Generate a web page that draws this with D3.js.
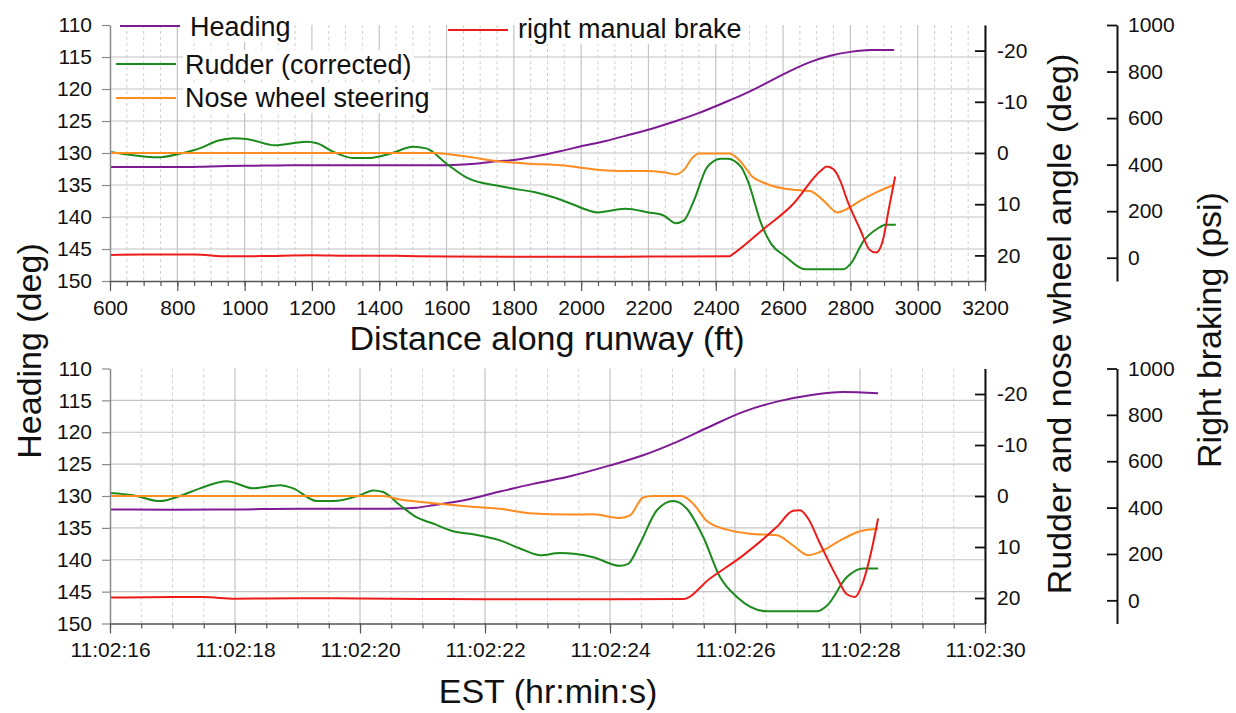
<!DOCTYPE html>
<html><head><meta charset="utf-8">
<script src="https://cdn.jsdelivr.net/npm/d3@7"></script>
<style>
body{margin:0;background:#fff;}
svg{display:block;font-family:"Liberation Sans",Arial,Helvetica,sans-serif;}
</style></head><body>
<svg id="c" width="1236" height="713"></svg>
<script>
// ---------- DATA: top panel (distance along runway, ft) ----------
const topHeadingX = [600,700,800,900,1000,1100,1200,1300,1400,1500,1600,1650,1700,1750,1800,1860,1940,2000,2070,2140,2210,2280,2345,2440,2500,2560,2620,2680,2740,2800,2860,2930];
const topHeadingY = [132.2,132.2,132.2,132.1,132.0,131.95,131.9,131.9,131.9,131.9,131.9,131.8,131.6,131.3,131.1,130.6,129.7,128.95,128.15,127.2,126.2,125.05,123.85,121.8,120.4,118.8,117.2,115.8,114.8,114.2,113.9,113.9];

const topRudderX = [600,670,740,810,870,920,967,1010,1090,1185,1215,1265,1325,1365,1435,1500,1540,1600,1660,1760,1820,1860,1920,1970,2050,2130,2200,2245,2280,2305,2335,2375,2415,2435,2475,2495,2535,2565,2605,2665,2780,2800,2840,2880,2905,2935];
const topRudderY = [-0.2,0.45,0.85,0.1,-1.0,-2.4,-2.9,-2.7,-1.5,-2.2,-1.9,-0.2,1.0,1.0,0.1,-1.2,-0.9,2.1,4.8,6.5,7.2,7.6,8.7,9.9,11.6,10.9,11.6,12.2,13.7,13.2,9.3,2.7,1.1,1.1,2.7,5.4,13.8,17.8,20.1,22.7,22.7,21.7,17.1,14.8,14.0,14.0];

const topNoseX = [600,1000,1400,1560,1650,1750,1850,1940,2040,2140,2200,2250,2280,2305,2330,2350,2440,2470,2510,2550,2630,2680,2720,2762,2781,2830,2880,2930];
const topNoseY = [0,0,0,0,0.6,1.6,2.1,2.4,3.2,3.5,3.5,3.8,4.2,3.3,1.0,0.1,0.1,1.4,4.7,6.0,7.2,7.4,9.3,11.6,11.2,9.3,7.6,6.2];

const topBrakeX = [600,700,850,950,1050,1200,1300,1450,1600,1800,2000,2200,2440,2455,2535,2630,2712,2730,2750,2770,2791,2831,2856,2876,2896,2915,2933];
const topBrakeY = [12,14,14,6,7,11,9,8,5,4,4,5,6,20,115,231,374,392,380,330,245,115,36,22,72,216,349];

// ---------- DATA: bottom panel (seconds after 11:02:00 EST) ----------
const botHeadingX = [16,17,18,19,20,20.5,20.9,21.17,21.7,22.24,22.77,23.36,24.0,24.53,25.07,25.6,26.13,26.67,27.2,27.73,28.29];
const botHeadingY = [132.1,132.15,132.1,132.0,132.0,132.0,131.85,131.45,130.6,129.3,128.1,126.9,125.2,123.6,121.5,119.1,116.8,115.2,114.2,113.7,113.9];

const botRudderX = [16.0,16.37,16.8,17.12,17.44,17.87,18.29,18.72,18.93,19.31,19.57,20.0,20.21,20.37,20.64,20.91,21.17,21.49,21.81,22.24,22.56,22.88,23.2,23.73,24.16,24.29,24.48,24.75,25.01,25.23,25.49,25.76,26.03,26.51,27.31,27.47,27.79,28.05,28.29];
const botRudderY = [-0.6,-0.15,1.0,0.0,-1.5,-2.9,-1.5,-2.1,-1.5,1.0,1.0,-0.15,-1.1,-0.8,1.8,4.2,5.4,6.9,7.5,8.7,10.3,11.6,11.2,12.0,13.7,13.3,9.3,2.8,1.0,2.5,8.0,15.9,19.8,22.6,22.6,21.5,15.9,14.2,14.2];

const botNoseX = [16,18,20,20.37,20.64,21.17,21.7,22.24,22.77,23.36,23.73,24.16,24.32,24.53,24.69,25.15,25.33,25.55,25.87,26.24,26.67,26.93,27.17,27.31,27.73,28.0,28.29];
const botNoseY = [0,0,0,0,0.7,1.4,2.0,2.5,3.45,3.65,3.6,4.3,3.8,0.3,0,0,1.5,4.9,6.6,7.4,7.7,9.7,11.6,11.2,8.4,6.9,6.4];

const botBrakeX = [16,17,17.5,18,19,20,21,22,23,24,25.17,25.6,26.13,26.67,26.93,27.04,27.17,27.36,27.63,27.79,27.92,28.03,28.16,28.29];
const botBrakeY = [12,14,14,7,9,8,6,5,5,5,6,94,194,317,386,389,353,245,100,26,14,65,187,353];

// ---------- tick labels ----------
const headingTicks = [110,115,120,125,130,135,140,145,150];
const rudderTicks = [-20,-10,0,10,20];
const brakeTicks = [0,200,400,600,800,1000];
const distTicks = [600,800,1000,1200,1400,1600,1800,2000,2200,2400,2600,2800,3000,3200];
const timeTicks = [16,18,20,22,24,26,28,30];
const timeLabels = ["11:02:16","11:02:18","11:02:20","11:02:22","11:02:24","11:02:26","11:02:28","11:02:30"];

const seriesNames = ["Heading","Rudder (corrected)","Nose wheel steering","right manual brake"];
const colors = {heading:"#7d1a94", rudder:"#1c8a1c", nose:"#ff8c1e", brake:"#ee1b1b"};

// ---------- layout ----------
const svg = d3.select("#c");
const X0 = 110, X1 = 985, AX2 = 1117;
const TICK_FONT = "21px";
const plain = d => String(d);

const panels = [
  {top:25, bottom:281, x:d3.scaleLinear().domain([600,3200]).range([X0,X1]),
   major:distTicks, minor:d3.range(600,3201,50), fmt:plain,
   H:[topHeadingX,topHeadingY], R:[topRudderX,topRudderY], N:[topNoseX,topNoseY], B:[topBrakeX,topBrakeY]},
  {top:368.5, bottom:623.5, x:d3.scaleLinear().domain([16,30]).range([X0,X1]),
   major:timeTicks, minor:d3.range(16,30.01,0.5), fmt:d=>timeLabels[timeTicks.indexOf(d)],
   H:[botHeadingX,botHeadingY], R:[botRudderX,botRudderY], N:[botNoseX,botNoseY], B:[botBrakeX,botBrakeY]}
];

panels.forEach(p=>{
  const yH = d3.scaleLinear().domain([110,150]).range([p.top,p.bottom]);
  const yR = d3.scaleLinear().domain([-25,25]).range([p.top,p.bottom]);
  const yB = d3.scaleLinear().domain([-100,1000]).range([p.bottom,p.top]);
  const g = svg.append("g");

  // grid
  const grid = g.append("g");
  grid.selectAll("line.minor").data(p.minor.filter(v=>!p.major.includes(v))).join("line")
    .attr("x1",d=>p.x(d)).attr("x2",d=>p.x(d)).attr("y1",p.top).attr("y2",p.bottom)
    .attr("stroke","#cfcfcf").attr("stroke-width",1).attr("stroke-dasharray","3,3");
  grid.selectAll("line.major").data(p.major.slice(1)).join("line")
    .attr("x1",d=>p.x(d)).attr("x2",d=>p.x(d)).attr("y1",p.top).attr("y2",p.bottom)
    .attr("stroke","#c4c4c4").attr("stroke-width",1.2);
  grid.selectAll("line.h").data(headingTicks.slice(1,-1)).join("line")
    .attr("x1",X0).attr("x2",X1).attr("y1",d=>yH(d)).attr("y2",d=>yH(d))
    .attr("stroke","#c4c4c4").attr("stroke-width",1.2);

  // lines
  const mk = (arr, ys) => d3.line().curve(d3.curveMonotoneX)
      .x((d,i)=>p.x(arr[0][i])).y((d,i)=>ys(arr[1][i]))(arr[0]);
  const lines = g.append("g").attr("fill","none").attr("stroke-width",2).attr("stroke-linejoin","round");
  lines.append("path").attr("d",mk(p.H,yH)).attr("stroke",colors.heading);
  lines.append("path").attr("d",mk(p.R,yR)).attr("stroke",colors.rudder);
  lines.append("path").attr("d",mk(p.N,yR)).attr("stroke",colors.nose);
  lines.append("path").attr("d",mk(p.B,yB)).attr("stroke",colors.brake);

  // left axis
  const la = g.append("g").attr("transform",`translate(${X0},0)`)
    .call(d3.axisLeft(yH).tickValues(headingTicks).tickFormat(plain).tickSizeInner(8).tickSizeOuter(0).tickPadding(10));
  la.select(".domain").attr("stroke","#8a8a8a").attr("stroke-width",1.5);
  la.selectAll(".tick line").attr("stroke","#8a8a8a").attr("stroke-width",1.2);
  la.selectAll("text").attr("font-size",TICK_FONT).attr("font-family",null).attr("fill","#111");

  // bottom axis minor ticks
  const bm = g.append("g").attr("transform",`translate(0,${p.bottom})`)
    .call(d3.axisBottom(p.x).tickValues(p.minor).tickSizeInner(5).tickSizeOuter(0).tickFormat(""));
  bm.select(".domain").attr("stroke","#555").attr("stroke-width",1.5);
  bm.selectAll(".tick line").attr("stroke","#555").attr("stroke-width",1.2);
  const bx = g.append("g").attr("transform",`translate(0,${p.bottom})`)
    .call(d3.axisBottom(p.x).tickValues(p.major).tickSizeInner(10).tickSizeOuter(0).tickPadding(9).tickFormat(p.fmt));
  bx.select(".domain").remove();
  bx.selectAll(".tick line").attr("stroke","#555").attr("stroke-width",1.2);
  bx.selectAll("text").attr("font-size",TICK_FONT).attr("font-family",null).attr("fill","#111");

  // right rudder axis
  const ra = g.append("g").attr("transform",`translate(${X1},0)`)
    .call(d3.axisRight(yR).tickValues(rudderTicks).tickFormat(plain).tickSizeInner(-10).tickSizeOuter(0).tickPadding(12));
  ra.select(".domain").attr("stroke","#111").attr("stroke-width",2);
  ra.selectAll(".tick line").attr("stroke","#111").attr("stroke-width",1.8);
  ra.selectAll("text").attr("font-size",TICK_FONT).attr("font-family",null).attr("fill","#111");

  // right brake axis
  const ba = g.append("g").attr("transform",`translate(${AX2},0)`)
    .call(d3.axisRight(yB).tickValues(brakeTicks).tickFormat(plain).tickSizeInner(-10).tickSizeOuter(0).tickPadding(11));
  ba.select(".domain").attr("stroke","#111").attr("stroke-width",2);
  ba.selectAll(".tick line").attr("stroke","#111").attr("stroke-width",1.8);
  ba.selectAll("text").attr("font-size",TICK_FONT).attr("font-family",null).attr("fill","#111");
});

// ---------- axis titles ----------
const TITLE = 34;
svg.append("text").attr("x",547).attr("y",350).attr("text-anchor","middle")
  .attr("font-size",TITLE).attr("fill","#111").text("Distance along runway (ft)");
svg.append("text").attr("x",548).attr("y",703).attr("text-anchor","middle")
  .attr("font-size",TITLE).attr("fill","#111").text("EST (hr:min:s)");
svg.append("text").attr("transform","translate(41,351) rotate(-90)").attr("text-anchor","middle")
  .attr("font-size",TITLE).attr("fill","#111").text("Heading (deg)");
svg.append("text").attr("transform","translate(1071,324) rotate(-90)").attr("text-anchor","middle")
  .attr("font-size",TITLE).attr("fill","#111").text("Rudder and nose wheel angle (deg)");
svg.append("text").attr("transform","translate(1221,330) rotate(-90)").attr("text-anchor","middle")
  .attr("font-size",TITLE).attr("fill","#111").text("Right braking (psi)");

// ---------- legend ----------
const legendItems = [
  {name:seriesNames[0], color:colors.heading, lx:120, ly:26, tx:190, ty:36},
  {name:seriesNames[1], color:colors.rudder, lx:116, ly:64, tx:185, ty:74},
  {name:seriesNames[2], color:colors.nose, lx:116, ly:98, tx:185, ty:107},
  {name:seriesNames[3], color:colors.brake, lx:448, ly:30, tx:518, ty:38}
];
const lg = svg.append("g");
legendItems.forEach(it=>{
  const gi = lg.append("g");
  const r = gi.append("rect").attr("fill","#fff");
  const t = gi.append("text").attr("x",it.tx).attr("y",it.ty).attr("font-size",27).attr("fill","#111").text(it.name);
  const bb = t.node().getBBox();
  r.attr("x",bb.x-2).attr("y",bb.y).attr("width",bb.width+4).attr("height",bb.height);
  gi.append("line").attr("x1",it.lx).attr("x2",it.lx+60).attr("y1",it.ly).attr("y2",it.ly)
    .attr("stroke",it.color).attr("stroke-width",2);
});
</script>
</body></html>
